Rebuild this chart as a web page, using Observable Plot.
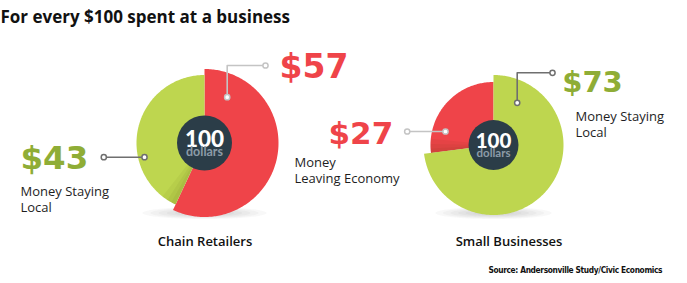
<!DOCTYPE html>
<html><head><meta charset="utf-8">
<script src="https://cdn.jsdelivr.net/npm/d3@7"></script>
<script src="https://cdn.jsdelivr.net/npm/@observablehq/plot@0.6"></script>
<style>body{margin:0;background:#fff;} .src text{letter-spacing:-0.35px;}</style>
</head><body><div id="chart"></div>
<script>
// ---- data ----
const businesses = ["Chain Retailers", "Small Businesses"];
const moneyLeaving = [57, 27];
const moneyStaying = [43, 73];
const totalLabel = "100";
const totalUnit = "dollars";
const title = "For every $100 spent at a business";
const source = "Source: Andersonville Study/Civic Economics";
const leavingText = "Money\nLeaving Economy";
const stayingText = "Money Staying\nLocal";

// ---- style / layout ----
const W = 687, H = 283;
const red = "#ef4449", green = "#bed64f", greenText = "#8fad36", hubColor = "#2b3d48";
const sliceColor = {leaving: red, staying: green};
const textColor = {leaving: red, staying: greenText};
const leaderColor = {leaving: "#c4c4c4", staying: "#6f6f6f"};
const layout = [
  {cx: 204, cy: 142.5, rBig: 74, rSmall: 68, hub: 27.5, hubFs: 22.5, unitFs: 12.5, shadowRx: 62, shadowDy: 70,
   captionX: 204.5,
   leaving: {vx: 279, vy: 77.3, fs: 33, desc: null, leader: [[226.7, 96.7], [226.7, 65], [265, 65]]},
   staying: {vx: 20, vy: 168.3, fs: 32.5, desc: [20, 211], leader: [[144, 156.7], [103.3, 156.7]]}},
  {cx: 493, cy: 144.5, rBig: 70, rSmall: 63, hub: 25, hubFs: 20.5, unitFs: 11.5, shadowRx: 58, shadowDy: 68,
   captionX: 508.5,
   leaving: {vx: 328, vy: 143.3, fs: 31, desc: [294, 182.7], leader: [[445, 131], [406.7, 131]]},
   staying: {vx: 561.7, vy: 91, fs: 29, desc: [575, 136.7], leader: [[516.7, 102.3], [516.7, 72.3], [552, 72.3]]}}
];

const rows = businesses.map((b, i) => ({business: b, leaving: moneyLeaving[i], staying: moneyStaying[i]}));
const pie = d3.pie().value(d => d.value); // sorted descending: larger share starts at 12 o'clock
const deg = Math.PI / 180;

const slices = [], shades = [], shadows = [], leaders = [], leaderEnds = [], leaderStarts = [];
const values = [], descs = [], hubs = [], captions = [];

function arcPts(id, cx, cy, r, a0, a1, extra) {
  const out = [{id, x: cx, y: cy, ...extra}];
  const n = Math.max(2, Math.ceil((a1 - a0) / deg));
  for (let k = 0; k <= n; k++) {
    const t = a0 + (a1 - a0) * k / n;
    out.push({id, x: cx + r * Math.sin(t), y: cy - r * Math.cos(t), ...extra});
  }
  return out;
}

rows.forEach((row, i) => {
  const L = layout[i];
  const arcs = pie([{key: "leaving", value: row.leaving}, {key: "staying", value: row.staying}]);
  const maxV = Math.max(row.leaving, row.staying);
  // soft shadow under the pie
  for (let k = 0; k < 6; k++) {
    const f = 1 - k * 0.13;
    const id = `shadow-${i}-${k}`;
    for (let j = 0; j <= 72; j++) {
      const t = j * 5 * deg;
      shadows.push({id, x: L.cx + L.shadowRx * f * Math.cos(t), y: L.cy + L.shadowDy + 6 * f * Math.sin(t)});
    }
  }
  arcs.forEach(a => {
    const key = a.data.key;
    const big = a.data.value === maxV;
    const rad = big ? L.rBig : L.rSmall;
    slices.push(...arcPts(`${row.business}-${key}`, L.cx, L.cy, rad, a.startAngle, a.endAngle, {fill: sliceColor[key]}));
    if (!big) {
      [4, 8, 13].forEach((d, j) => shades.push(...arcPts(`shade-${i}-${j}`, L.cx, L.cy, rad, a.startAngle, a.startAngle + d * deg, {})));
    }
    const lab = L[key];
    values.push({text: `$${a.data.value}`, x: lab.vx, y: lab.vy, fs: lab.fs, fill: textColor[key]});
    if (lab.desc) descs.push({text: key === "leaving" ? leavingText : stayingText, x: lab.desc[0], y: lab.desc[1]});
    const lid = `leader-${i}-${key}`;
    lab.leader.forEach(p => leaders.push({id: lid, x: p[0], y: p[1], stroke: leaderColor[key]}));
    leaderStarts.push({x: lab.leader[0][0], y: lab.leader[0][1], stroke: leaderColor[key]});
    const e = lab.leader[lab.leader.length - 1];
    leaderEnds.push({x: e[0], y: e[1], stroke: leaderColor[key]});
  });
  hubs.push({x: L.cx, y: L.cy, r: L.hub, fs: L.hubFs, ufs: L.unitFs});
  captions.push({text: row.business, x: L.captionX, y: 245.5});
});

const plot = Plot.plot({
  width: W, height: H,
  margin: 0,
  x: {domain: [0, W], range: [0, W], axis: null},
  y: {domain: [0, H], range: [0, H], axis: null},
  r: {type: "identity"},
  color: {type: "identity"},
  style: {background: "#fff"},
  marks: [
    Plot.line(shadows, {x: "x", y: "y", z: "id", fill: "#5a5a5a", fillOpacity: 0.045, stroke: "none", curve: "linear"}),
    Plot.line(slices, {x: "x", y: "y", z: "id", fill: "fill", stroke: "none", curve: "linear"}),
    Plot.line(shades, {x: "x", y: "y", z: "id", fill: "#3a3a00", fillOpacity: 0.05, stroke: "none", curve: "linear"}),
    Plot.dot(hubs, {x: "x", y: "y", r: "r", fill: hubColor, stroke: "none"}),
    Plot.text(hubs, {x: "x", y: d => d.y + d.fs * 0.17, text: () => totalLabel, fontSize: "fs", fontWeight: 900,
      fontFamily: "Lato, 'Open Sans', sans-serif", fill: "#fff", lineAnchor: "bottom"}),
    Plot.text(hubs, {x: "x", y: d => d.y + d.ufs + 0.5, text: () => totalUnit, fontSize: "ufs", fontWeight: 700,
      fontFamily: "Lato, 'Open Sans', sans-serif", fill: "#8b9ba7", lineAnchor: "bottom"}),
    Plot.line(leaders, {x: "x", y: "y", z: "id", stroke: "stroke", strokeWidth: 1.6, curve: "linear"}),
    Plot.dot(leaderStarts, {x: "x", y: "y", r: 2.6, stroke: "stroke", strokeWidth: 1.5, fill: "#fff"}),
    Plot.dot(leaderEnds, {x: "x", y: "y", r: 2.6, stroke: "stroke", strokeWidth: 1.5, fill: "#fff"}),
    Plot.text(values, {x: "x", y: "y", text: "text", fontSize: "fs", fill: "fill", fontWeight: "bold",
      fontFamily: "'DejaVu Sans', sans-serif", textAnchor: "start", lineAnchor: "bottom"}),
    Plot.text(descs, {x: "x", y: "y", text: "text", fontSize: 13, fill: "#1e1e1e", lineHeight: 16 / 13,
      fontFamily: "'Open Sans', sans-serif", textAnchor: "start", lineAnchor: "bottom"}),
    Plot.text(captions, {x: "x", y: "y", text: "text", fontSize: 13, fill: "#111", fontWeight: 600,
      fontFamily: "'Open Sans', sans-serif", textAnchor: "middle", lineAnchor: "bottom"}),
    Plot.text([title], {x: 0, y: 22.7, text: d => d, fontSize: 17, fill: "#111", fontWeight: "bold",
      fontFamily: "'Open Sans', sans-serif", textAnchor: "start", lineAnchor: "bottom"}),
    Plot.text([source], {x: 661.7, y: 272.7, text: d => d, fontSize: 8.3, fill: "#111", fontWeight: "bold",
      className: "src",
      fontFamily: "'Liberation Sans Narrow', 'DejaVu Sans Condensed', sans-serif", textAnchor: "end", lineAnchor: "bottom"})
  ]
});
plot.querySelectorAll("text").forEach(t => { if (t.textContent === source) t.style.letterSpacing = "-0.35px"; });
document.getElementById("chart").append(plot);
</script>
</body></html>
